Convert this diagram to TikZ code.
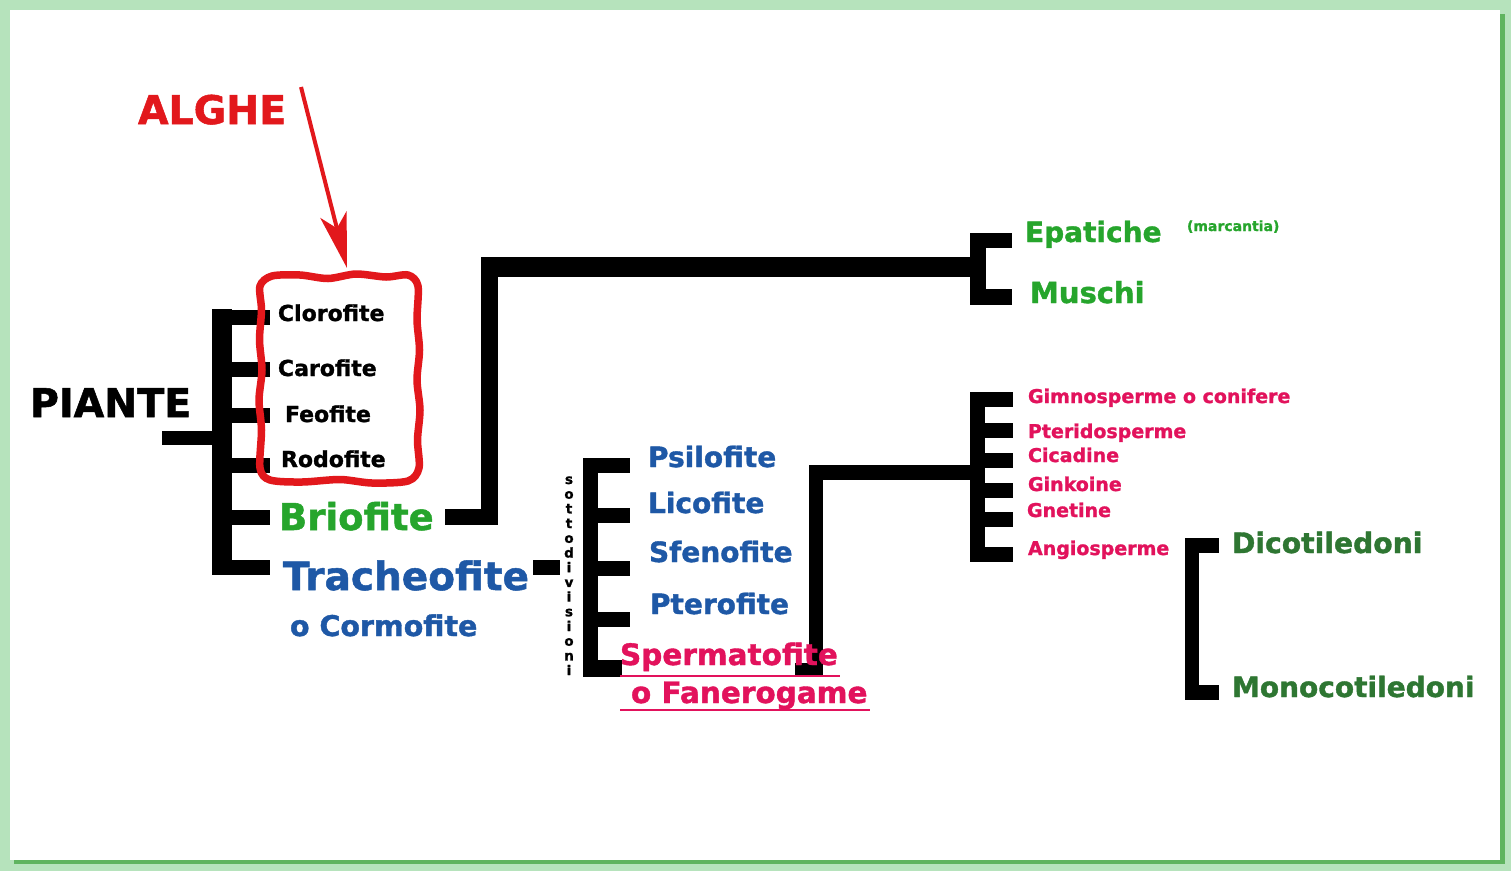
\documentclass[tikz,border=0pt]{standalone}
\usepackage{fontspec}
\setmainfont{DejaVu Sans}[BoldFeatures={FakeBold=1.3}]
\usetikzlibrary{arrows.meta}
\definecolor{bgg}{RGB}{182,227,188}
\definecolor{shg}{RGB}{95,180,95}
\definecolor{algred}{RGB}{226,24,28}
\definecolor{brgreen}{RGB}{38,165,44}
\definecolor{dkgreen}{RGB}{46,118,50}
\definecolor{tblue}{RGB}{30,88,166}
\definecolor{spink}{RGB}{226,18,92}
\tikzset{
  txt/.style={anchor=base west, inner sep=0pt, outer sep=0pt, font=\bfseries\fontsize{#1}{#1}\selectfont},
  blk/.style={draw=black, line width=#1},
  blk/.default=15pt,
  sotto/.style={anchor=base, inner sep=0pt, font=\bfseries\fontsize{13.5}{13.5}\selectfont},
}
\begin{document}
\begin{tikzpicture}[x=1pt,y=-1pt]
\useasboundingbox (0,0) rectangle (1511,871);
% frame
\fill[bgg] (0,0) rectangle (1511,871);
\fill[shg] (14,14) rectangle (1505,864);
\fill[white] (10,10) rectangle (1500,860);

% ---- black brackets ----
% main bracket (PIANTE)
\coordinate (pstub) at (162,438);
\coordinate (mtop) at (222,309);
\coordinate (mbot) at (222,575);
\draw[blk=14pt] (pstub) -- (213,438);
\draw[blk=20pt] (mtop) -- (mbot);
\foreach \y in {317,369.5,415.5,465.5,517.5,567.5}
  \draw[blk] (231,\y) -- (270,\y);

% Briofite connector to Epatiche/Muschi
\coordinate (bstart) at (445,517);
\draw[blk=16pt] (bstart) -- (498,517);
\draw[blk=17pt] (489.5,257) -- (489.5,525);
\draw[blk=20pt] (481,267) -- (979,267);
% Epatiche bracket
\draw[blk=16pt] (978,233) -- (978,305);
\draw[blk] (970,240.5) -- (1012,240.5);
\draw[blk=16pt] (970,297) -- (1012,297);

% Tracheofite -> sottodivisioni bracket
\draw[blk] (533,567.5) -- (560,567.5);
\draw[blk] (590.5,458) -- (590.5,677);
\foreach \y in {465.5,515,568,619.5}
  \draw[blk] (583,\y) -- (630,\y);
\draw[blk=17pt] (583,668.5) -- (622,668.5);

% Spermatofite connector -> gymnosperm bracket
\draw[blk=14pt] (795,669.5) -- (823,669.5);
\draw[blk=14pt] (816,465) -- (816,676.5);
\draw[blk] (809,472.5) -- (972,472.5);
\draw[blk] (977.5,392) -- (977.5,562);
\foreach \y in {399.5,430.5,460.5,490.5,519.5,554.5}
  \draw[blk] (970,\y) -- (1013,\y);

% Dicot / Monocot bracket
\draw[blk=14pt] (1192,538) -- (1192,700);
\draw[blk] (1185,545.5) -- (1219,545.5);
\draw[blk] (1185,692.5) -- (1219,692.5);

% ---- ALGHE ----
\draw[algred, line width=7.5pt] plot[smooth cycle, tension=0.5] coordinates {
  (272,276) (300,275) (328,278.5) (356,274) (386,277) (408,275)
  (418,286) (417,320) (419.5,350) (417,380) (420,410) (417.5,440) (419,468)
  (408,481) (372,483) (340,479.5) (302,482) (270,480)
  (260,468) (261.5,430) (259,400) (262,370) (259.5,340) (261.5,310) (260,286)};
\node[txt=39.5, text=algred] (alghe) at (138,124) {ALGHE};
\coordinate (atail) at (301,87);
\coordinate (ahead) at (347,268);
\draw[algred, line width=4pt, -{Stealth[length=55pt,width=27pt,inset=14pt]}] (atail) -- (ahead);

% ---- texts ----
\node[txt=39.5] (piante) at (30,417) {PIANTE};
\node[txt=22] (cloro) at (278,321) {Clorofite};
\node[txt=22] (caro) at (278,376) {Carofite};
\node[txt=22] (feo) at (285,422) {Feofite};
\node[txt=22] (rodo) at (281,467) {Rodofite};
\node[txt=37, text=brgreen] (brio) at (279,530) {Briofite};
\node[txt=39, text=tblue] (trach) at (283,590) {Tracheofite};
\node[txt=28.5, text=tblue] (corm) at (290,636) {o Cormofite};

\foreach \c [count=\i from 0] in {s,o,t,t,o,d,i,v,i,s,i,o,n,i}
  \node[sotto] (sd\i) at (569,484+14.7*\i) {\c};

\node[txt=28, text=tblue] (psilo) at (648,467) {Psilofite};
\node[txt=28, text=tblue] (lico) at (648,513) {Licofite};
\node[txt=28, text=tblue] (sfeno) at (649,562) {Sfenofite};
\node[txt=28, text=tblue] (ptero) at (650,614) {Pterofite};
\node[txt=29.5, text=spink] (sperm) at (620,665) {Spermatofite};
\node[txt=29.5, text=spink] (fanero) at (631,703) {o Fanerogame};
\draw[spink, line width=2pt] (620,676) -- (840,676);
\draw[spink, line width=2pt] (620,710) -- (870,710);

\node[txt=28, text=brgreen] (epat) at (1025,242) {Epatiche};
\node[txt=14, text=brgreen] (marc) at (1187,231) {(marcantia)};
\node[txt=29, text=brgreen] (musc) at (1030,303) {Muschi};

\node[txt=19, text=spink] (gimno) at (1028,403) {Gimnosperme o conifere};
\node[txt=19, text=spink] (pteri) at (1028,438) {Pteridosperme};
\node[txt=19, text=spink] (cica) at (1028,462) {Cicadine};
\node[txt=19, text=spink] (ginko) at (1028,491) {Ginkoine};
\node[txt=19, text=spink] (gneti) at (1027,517) {Gnetine};
\node[txt=19, text=spink] (angio) at (1028,555) {Angiosperme};

\node[txt=28.2, text=dkgreen] (dicot) at (1232,553) {Dicotiledoni};
\node[txt=28, text=dkgreen] (monoc) at (1232,697) {Monocotiledoni};
\end{tikzpicture}
\end{document}
